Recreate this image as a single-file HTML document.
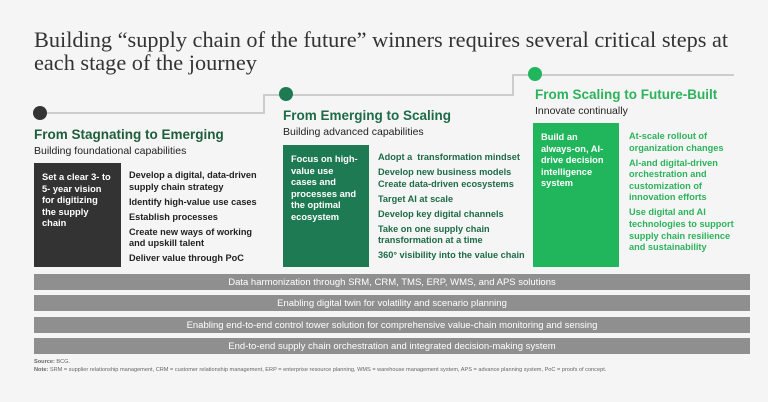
<!DOCTYPE html>
<html><head><meta charset="utf-8"><style>
*{margin:0;padding:0;box-sizing:border-box}
body{width:768px;height:402px;background:#f5f5f5;font-family:"Liberation Sans",sans-serif;position:relative;overflow:hidden}
.a{position:absolute}
h1{position:absolute;left:34px;top:28px;font-family:"Liberation Serif",serif;font-weight:normal;font-size:22.3px;line-height:23px;color:#333;white-space:nowrap}
.hd{font-weight:bold;font-size:13.5px;white-space:nowrap}
.sb{font-size:10.5px;color:#222;white-space:nowrap}
.box{color:#fff;font-weight:bold;font-size:9.3px;line-height:11.6px;padding:9px 8px}
.ls{font-weight:bold;font-size:9.2px;line-height:11.6px}
.ls div{margin-bottom:3.4px}
.bar{position:absolute;left:34px;width:716px;height:16px;background:#8f8f8f;color:#fff;font-size:9.5px;text-align:center;line-height:17px}
.ln{position:absolute;background:#ccc}
.dot{position:absolute;width:14px;height:14px;border-radius:50%}
</style></head><body>
<h1>Building “supply chain of the future” winners requires several critical steps at<br>each stage of the journey</h1>

<div class="ln" style="left:40px;top:112px;width:225px;height:2px"></div>
<div class="ln" style="left:263px;top:94px;width:2px;height:20px"></div>
<div class="ln" style="left:263px;top:94px;width:250px;height:2px"></div>
<div class="ln" style="left:512px;top:75px;width:2px;height:21px"></div>
<div class="ln" style="left:512px;top:74px;width:222px;height:2px"></div>
<div class="dot" style="left:33px;top:106px;background:#333"></div>
<div class="dot" style="left:279px;top:87px;background:#1e7a52"></div>
<div class="dot" style="left:528px;top:67px;background:#21b55c"></div>

<div class="a hd" style="left:34px;top:127px;color:#1f5e3b">From Stagnating to Emerging</div>
<div class="a sb" style="left:34px;top:145px">Building foundational capabilities</div>
<div class="a box" style="left:34px;top:163px;width:87px;height:104px;background:#333">Set a clear 3- to 5- year vision for digitizing the supply chain</div>
<div class="a ls" style="left:129px;top:170px;color:#222;width:140px">
<div>Develop a digital, data-driven supply chain strategy</div><div>Identify high-value use cases</div><div>Establish processes</div><div>Create new ways of working and upskill talent</div><div>Deliver value through PoC</div></div>

<div class="a hd" style="left:283px;top:108px;color:#1e6b47">From Emerging to Scaling</div>
<div class="a sb" style="left:283px;top:126px">Building advanced capabilities</div>
<div class="a box" style="left:283px;top:145px;width:86px;height:122px;background:#1e7a52">Focus on high-value use cases and processes and the optimal ecosystem</div>
<div class="a ls" style="left:378px;top:152px;color:#1e6b47;width:155px">
<div>Adopt a&nbsp; transformation mindset</div><div>Develop new business models<br>Create data-driven ecosystems</div><div>Target AI at scale</div><div>Develop key digital channels</div><div>Take on one supply chain<br>transformation at a time</div><div>360° visibility into the value chain</div></div>

<div class="a hd" style="left:535px;top:87px;color:#2db35c">From Scaling to Future-Built</div>
<div class="a sb" style="left:535px;top:105px">Innovate continually</div>
<div class="a box" style="left:533px;top:123px;width:86px;height:144px;background:#21b55c">Build an always-on, AI-drive decision intelligence system</div>
<div class="a ls" style="left:629px;top:131px;color:#2db35c;width:115px">
<div>At-scale rollout of organization changes</div><div>AI-and digital-driven orchestration and customization of innovation efforts</div><div>Use digital and AI technologies to support supply chain resilience and sustainability</div></div>

<div class="bar" style="top:274px">Data harmonization through SRM, CRM, TMS, ERP, WMS, and APS solutions</div>
<div class="bar" style="top:295px">Enabling digital twin for volatility and scenario planning</div>
<div class="bar" style="top:317px">Enabling end-to-end control tower solution for comprehensive value-chain monitoring and sensing</div>
<div class="bar" style="top:338px">End-to-end supply chain orchestration and integrated decision-making system</div>

<div class="a" style="left:34px;top:359px;font-size:5.6px;color:#666;white-space:nowrap"><b>Source:</b> BCG.</div>
<div class="a" style="left:34px;top:367px;font-size:5.6px;color:#666;white-space:nowrap"><b>Note:</b> SRM = supplier relationship management, CRM = customer relationship management, ERP = enterprise resource planning, WMS = warehouse management system, APS = advance planning system, PoC = proofs of concept.</div>
</body></html>
